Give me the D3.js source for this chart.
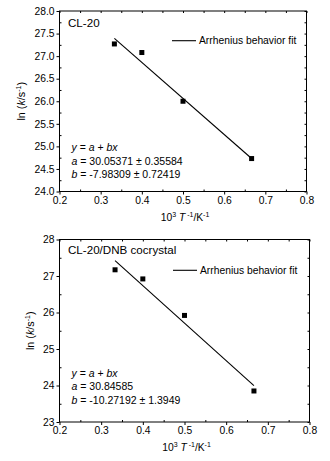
<!DOCTYPE html>
<html><head><meta charset="utf-8">
<script src="https://cdn.jsdelivr.net/npm/d3@7"></script>
<style>body{margin:0;background:#fff}svg{display:block;font-family:"Liberation Sans",Arial,sans-serif}</style>
</head><body><svg id="c" width="330" height="461"></svg>
<script>
const invT = [1/3, 0.4, 0.5, 2/3];
const lnkCL20 = [27.27, 27.08, 26.00, 24.73];
const lnkCocrystal = [27.17, 26.92, 25.92, 23.85];
const fitCL20 = {a: 30.05371, b: -7.98309};
const fitCocrystal = {a: 30.84585, b: -10.27192};
const xTicks = [0.2, 0.3, 0.4, 0.5, 0.6, 0.7, 0.8];
const yTicksTop = [24.0, 24.5, 25.0, 25.5, 26.0, 26.5, 27.0, 27.5, 28.0];
const yTicksBottom = [23, 24, 25, 26, 27, 28];
const titles = ["CL-20", "CL-20/DNB cocrystal"];
const eqLines = [
  ["30.05371 \u00b1 0.35584", "-7.98309 \u00b1 0.72419"],
  ["30.84585", "-10.27192 \u00b1 1.3949"]
];
const legendText = "Arrhenius behavior fit";

const svg = d3.select("#c");

function panel(cfg) {
  const {left, right, top, bottom, yDomain, yTicks, yMinorStep, fmt, data, fit, title, eq, ylabX, anno} = cfg;
  const x = d3.scaleLinear().domain([0.2, 0.8]).range([left, right]);
  const y = d3.scaleLinear().domain(yDomain).range([bottom, top]);
  const g = svg.append("g");
  const xMinor = d3.range(0.25, 0.8, 0.1);
  const yMinor = d3.range(yDomain[0] + yMinorStep, yDomain[1], yMinorStep * 2);

  g.append("rect").attr("x", left).attr("y", top).attr("width", right - left).attr("height", bottom - top)
    .attr("fill", "none").attr("stroke", "#000").attr("stroke-width", 1);

  const bx = g.append("g").attr("transform", `translate(0,${bottom})`)
    .call(d3.axisBottom(x).tickValues(xTicks).tickFormat(d3.format(".1f")).tickSize(3).tickPadding(2));
  bx.select(".domain").remove();
  bx.selectAll("text").attr("font-size", 10.3).attr("fill", "#000").attr("font-family", "Liberation Sans, Arial, sans-serif");
  g.append("g").attr("transform", `translate(0,${bottom})`)
    .call(d3.axisTop(x).tickValues(xMinor).tickFormat("").tickSize(2)).select(".domain").remove();
  const tx = g.append("g").attr("transform", `translate(0,${top})`)
    .call(d3.axisBottom(x).tickValues(xTicks.concat(xMinor)).tickFormat("").tickSize(2));
  tx.select(".domain").remove();

  const ly = g.append("g").attr("transform", `translate(${left},0)`)
    .call(d3.axisLeft(y).tickValues(yTicks).tickFormat(d3.format(fmt)).tickSize(3).tickPadding(2));
  ly.select(".domain").remove();
  ly.selectAll("text").attr("font-size", 10.3).attr("fill", "#000").attr("font-family", "Liberation Sans, Arial, sans-serif");
  g.append("g").attr("transform", `translate(${left},0)`)
    .call(d3.axisRight(y).tickValues(yMinor).tickFormat("").tickSize(2)).select(".domain").remove();
  g.append("g").attr("transform", `translate(${right},0)`)
    .call(d3.axisLeft(y).tickValues(yTicks.concat(yMinor)).tickFormat("").tickSize(2)).select(".domain").remove();
  g.selectAll(".tick line").attr("stroke", "#000");

  const x0 = invT[0], x1 = invT[invT.length - 1];
  g.append("line").attr("x1", x(x0)).attr("y1", y(fit.a + fit.b * x0))
    .attr("x2", x(x1)).attr("y2", y(fit.a + fit.b * x1))
    .attr("stroke", "#000").attr("stroke-width", 1.1);

  g.selectAll("rect.pt").data(invT.map((v, i) => [v, data[i]])).enter().append("rect")
    .attr("class", "pt").attr("x", d => x(d[0]) - 2.5).attr("y", d => y(d[1]) - 2.5)
    .attr("width", 5).attr("height", 5).attr("fill", "#000");

  g.append("text").attr("x", left + 8.5).attr("y", anno.titleY).attr("font-size", 11.6).text(title);

  g.append("line").attr("x1", anno.legX).attr("x2", anno.legX + 24).attr("y1", anno.legY).attr("y2", anno.legY)
    .attr("stroke", "#000").attr("stroke-width", 1.1);
  g.append("text").attr("x", anno.legX + 27).attr("y", anno.legY + 3.7).attr("font-size", 10.3).text(legendText);

  const e = g.append("g").attr("font-size", 10.5);
  const t1 = e.append("text").attr("x", left + 12).attr("y", anno.eqY);
  t1.append("tspan").attr("font-style", "italic").text("y");
  t1.append("tspan").text(" = ");
  t1.append("tspan").attr("font-style", "italic").text("a");
  t1.append("tspan").text(" + ");
  t1.append("tspan").attr("font-style", "italic").text("bx");
  const t2 = e.append("text").attr("x", left + 12).attr("y", anno.eqY + 13.8);
  t2.append("tspan").attr("font-style", "italic").text("a");
  t2.append("tspan").text(" = " + eq[0]);
  const t3 = e.append("text").attr("x", left + 12).attr("y", anno.eqY + 27.6);
  t3.append("tspan").attr("font-style", "italic").text("b");
  t3.append("tspan").text(" = " + eq[1]);

  const xl = g.append("text").attr("x", (left + right) / 2 + 2).attr("y", bottom + 29).attr("text-anchor", "middle").attr("font-size", 10.3);
  xl.append("tspan").text("10");
  xl.append("tspan").attr("dy", -4).attr("font-size", 7).text("3");
  xl.append("tspan").attr("dy", 4).text(" ");
  xl.append("tspan").attr("font-style", "italic").text("T");
  xl.append("tspan").attr("dy", -4).attr("font-size", 7).text(" -1");
  xl.append("tspan").attr("dy", 4).text("/K");
  xl.append("tspan").attr("dy", -4).attr("font-size", 7).text("-1");

  const yl = g.append("text").attr("transform", `translate(${ylabX},${(top + bottom) / 2}) rotate(-90)`)
    .attr("text-anchor", "middle").attr("font-size", 10.8);
  yl.append("tspan").text("ln (");
  yl.append("tspan").attr("font-style", "italic").text("k");
  yl.append("tspan").text("/s");
  yl.append("tspan").attr("dy", -4).attr("font-size", 7).text("-1");
  yl.append("tspan").attr("dy", 4).text(")");
}

panel({left: 59.5, right: 306.5, top: 11, bottom: 191.5, yDomain: [24, 28], yTicks: yTicksTop, yMinorStep: 0.25,
  fmt: ".1f", data: lnkCL20, fit: fitCL20, title: titles[0], eq: eqLines[0], ylabX: 25,
  anno: {titleY: 26.8, legX: 172, legY: 40.7, eqY: 150.8}});
panel({left: 59.5, right: 309.5, top: 239.5, bottom: 422, yDomain: [23, 28], yTicks: yTicksBottom, yMinorStep: 0.5,
  fmt: "d", data: lnkCocrystal, fit: fitCocrystal, title: titles[1], eq: eqLines[1], ylabX: 34,
  anno: {titleY: 254, legX: 173, legY: 270.3, eqY: 376.6}});
</script></body></html>
